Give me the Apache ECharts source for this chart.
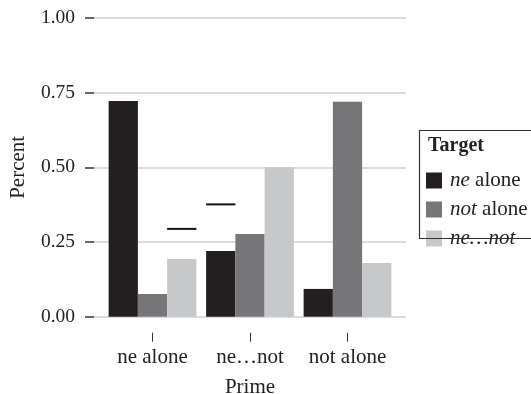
<!DOCTYPE html>
<html><head><meta charset="utf-8">
<script src="https://cdn.jsdelivr.net/npm/echarts@6/dist/echarts.min.js"></script>
<style>html,body{margin:0;padding:0;background:#fff}#c{width:531px;height:394px}</style>
</head><body><div id="c"></div>
<script>
const primes = ['ne alone', 'ne\u2026not', 'not alone'];
const targets = ['ne alone', 'not alone', 'ne\u2026not'];
const neAlone = [0.722, 0.220, 0.093];
const notAlone = [0.076, 0.277, 0.720];
const neNot = [0.193, 0.500, 0.180];
const refPrime = ['ne alone', 'ne\u2026not'];
const refSlot = [2, 0];
const refValue = [0.294, 0.376];
const yTicks = [0, 0.25, 0.5, 0.75, 1];

const FONT = 'Liberation Serif';
const colors = ['#231f20', '#767679', '#c7c8ca'];
const seriesValues = [neAlone, notAlone, neNot];

const chart = echarts.init(document.getElementById('c'), null, {renderer: 'canvas'});
const bars = targets.map((t, i) => ({
  name: t, type: 'bar', xAxisIndex: 1, yAxisIndex: 1,
  data: seriesValues[i], barGap: '0%', barCategoryGap: '10%',
  itemStyle: {color: colors[i]}, animation: false
}));
const legendFmt = {
  'ne alone': '{i|ne} alone',
  'not alone': '{i|not} alone',
  'ne\u2026not': '{i|ne\u2026not}'
};
const gridBase = {top: 18, containLabel: false, outerBoundsMode: 'none'};
chart.setOption({
  animation: false,
  textStyle: {fontFamily: FONT},
  grid: [
    Object.assign({left: 94, right: 125, bottom: 77.3}, gridBase),
    Object.assign({left: 103.75, right: 134.75, bottom: 77.3}, gridBase),
    Object.assign({left: 103.75, right: 134.75, bottom: 61.3}, gridBase)
  ],
  xAxis: [
    {gridIndex: 0, type: 'value', min: 0, max: 1, show: false},
    {gridIndex: 1, type: 'category', data: primes, show: false},
    {gridIndex: 2, type: 'category', data: primes,
     axisLine: {show: false},
     axisTick: {show: true, alignWithLabel: true, length: 9, lineStyle: {color: '#333', width: 1}},
     axisLabel: {fontFamily: FONT, fontSize: 21, color: '#222', margin: 14, interval: 0, hideOverlap: false},
     name: 'Prime', nameLocation: 'middle', nameGap: 44,
     nameTextStyle: {fontFamily: FONT, fontSize: 21, color: '#222'}}
  ],
  yAxis: [
    {gridIndex: 0, type: 'value', min: yTicks[0], max: yTicks[yTicks.length - 1], interval: 0.25,
     axisLine: {show: false},
     axisTick: {show: true, length: 9, lineStyle: {color: '#333', width: 1.5}},
     axisLabel: {fontFamily: FONT, fontSize: 19.5, color: '#222', margin: 19,
                 formatter: v => v.toFixed(2)},
     splitLine: {show: true, lineStyle: {color: '#d0d0d0', width: 1.5}},
     name: 'Percent', nameLocation: 'middle', nameGap: 65, nameRotate: 90,
     nameTextStyle: {fontFamily: FONT, fontSize: 21, color: '#222'}},
    {gridIndex: 1, type: 'value', min: yTicks[0], max: yTicks[yTicks.length - 1], show: false},
    {gridIndex: 2, type: 'value', min: yTicks[0], max: yTicks[yTicks.length - 1], show: false}
  ],
  legend: {
    orient: 'vertical', left: 426, top: 170, itemWidth: 16, itemHeight: 16, itemGap: 8,
    padding: 0, icon: 'rect', data: targets,
    formatter: n => legendFmt[n],
    textStyle: {fontFamily: FONT, fontSize: 21, lineHeight: 16, color: '#222', padding: [0, 0, 0, 3],
      rich: {i: {fontFamily: FONT, fontSize: 21, lineHeight: 16, fontStyle: 'italic', color: '#222'}}}
  },
  graphic: [
    {type: 'rect', shape: {x: 419.5, y: 130.5, width: 140, height: 108},
     style: {fill: 'none', stroke: '#333', lineWidth: 1.2}, z: 100},
    {type: 'text', left: 428, top: 136,
     style: {text: 'Target', fontFamily: FONT, fontSize: 20, fontWeight: 'bold', fill: '#222'}}
  ],
  series: bars.concat([{
    type: 'custom', xAxisIndex: 1, yAxisIndex: 1, z: 10,
    data: refPrime.map((p, i) => [p, refValue[i], refSlot[i]]),
    renderItem: function (params, api) {
      const c = api.coord([api.value(0), api.value(1)]);
      const bw = api.size([1, 0])[0];
      const w = bw * 0.9 / 3;
      const cx = c[0] + (api.value(2) - 1) * w;
      return {type: 'line', shape: {x1: cx - w / 2, y1: c[1], x2: cx + w / 2, y2: c[1]},
              style: {stroke: '#111', lineWidth: 2}};
    }
  }])
});
</script></body></html>
